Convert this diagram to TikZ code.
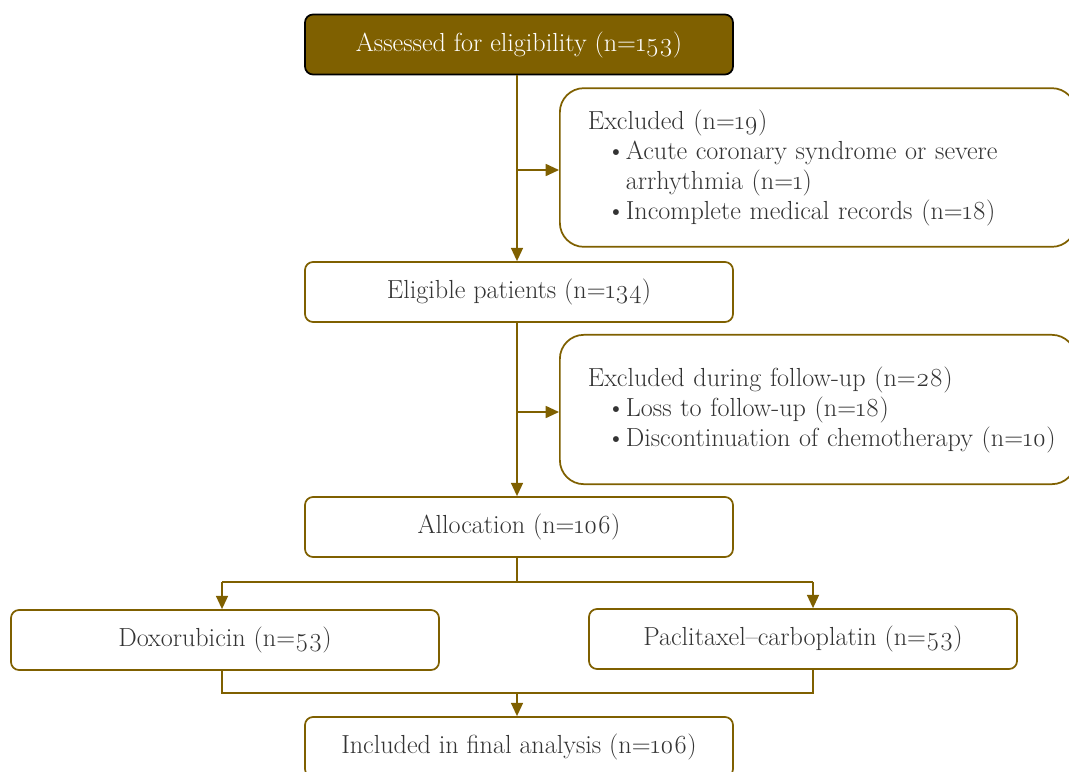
\documentclass[tikz,border=0pt]{standalone}
\usepackage{fontspec}
\setmainfont{Latin Modern Roman}[Numbers=OldStyle]
\usetikzlibrary{arrows.meta}
\definecolor{fcOlive}{HTML}{7F6000}
\definecolor{fcText}{HTML}{333333}
\tikzset{fcbox/.style={rectangle,rounded corners=6pt,draw=fcOlive,line width=1.3pt,fill=white,
           minimum width=321pt,minimum height=45pt,text=fcText,font=\fontsize{19.6}{22.5}\selectfont},
         fchead/.style={fcbox,fill=fcOlive,draw=black,text=white},
         fcside/.style={fcbox,rounded corners=18pt,anchor=west,align=left,inner xsep=21pt,
           text width=345pt,minimum height=112pt},
         fcline/.style={draw=fcOlive,line width=1.3pt},
         fcarrow/.style={fcline,-{Triangle[length=10pt,width=9pt]}}}
\newcommand{\fcitem}[1]{\hspace*{14pt}\makebox[14.5pt][l]{\textbullet}\mbox{#1}}
\newcommand{\fcgap}{\hspace*{28.5pt}}

\begin{document}
\begin{tikzpicture}[x=0.75pt,y=-0.75pt]
  \useasboundingbox (0,0) rectangle (1069,771);
  \clip (0,0) rectangle (1069,771);
  % main column
  \node[fchead] (assess) at (519,44.5) {Assessed for eligibility (n=153)};
  \node[fcbox] (elig) at (519,292) {Eligible patients (n=134)};
  \node[fcbox] (alloc) at (519,527) {Allocation (n=106)};
  \node[fcbox] (doxo) at (225,640) {Doxorubicin (n=53)};
  \node[fcbox] (pacli) at (803,639) {Paclitaxel--carboplatin (n=53)};
  \node[fcbox] (final) at (519,747) {Included in final analysis (n=106)};
  % exclusion boxes
  \node[fcside,minimum height=119pt] (excla) at (559,167.5)
    {Excluded (n=19)\\
     \fcitem{Acute coronary syndrome or severe}\\
     \fcgap arrhythmia (n=1)\\
     \fcitem{Incomplete medical records (n=18)}};
  \node[fcside] (exclb) at (559,409.5)
    {Excluded during follow-up (n=28)\\
     \fcitem{Loss to follow-up (n=18)}\\
     \fcitem{Discontinuation of chemotherapy (n=10)}};
  % junctions
  \coordinate (ja) at (517,170);
  \coordinate (jb) at (517,412);
  \coordinate (split) at (517,582);
  \coordinate (splitl) at (222,582);
  \coordinate (splitr) at (813,582);
  \coordinate (joinl) at (222,693);
  \coordinate (joinr) at (813,693);
  \coordinate (join) at (517,693);
  % connectors
  \draw[fcarrow] (assess.south -| ja) -- (elig.north -| ja);
  \draw[fcarrow] (ja) -- (excla.west |- ja);
  \draw[fcarrow] (elig.south -| jb) -- (alloc.north -| jb);
  \draw[fcarrow] (jb) -- (exclb.west |- jb);
  \draw[fcline] (alloc.south -| split) -- (split);
  \draw[fcline] (splitl) -- (splitr);
  \draw[fcarrow] (splitl) -- (doxo.north -| splitl);
  \draw[fcarrow] (splitr) -- (pacli.north -| splitr);
  \draw[fcline] (doxo.south -| joinl) -- (joinl) -- (joinr) -- (pacli.south -| joinr);
  \draw[fcarrow] (join) -- (final.north -| join);
\end{tikzpicture}
\end{document}
